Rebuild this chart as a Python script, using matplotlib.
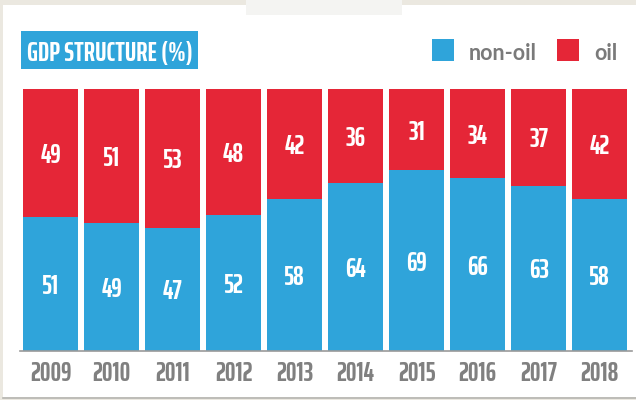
import numpy as np
import matplotlib
matplotlib.use("Agg")
import matplotlib.pyplot as plt
import matplotlib.patches as patches

years = ["2009", "2010", "2011", "2012", "2013", "2014", "2015", "2016", "2017", "2018"]
non_oil = [51, 49, 47, 52, 58, 64, 69, 66, 63, 58]
oil = [49, 51, 53, 48, 42, 36, 31, 34, 37, 42]

BLUE = "#2fa4da"
RED = "#e52637"
GREY = "#808080"
NARROW = ["Saira ExtraCondensed", "Barlow Condensed", "Roboto Condensed",
          "Liberation Sans Narrow", "DejaVu Sans"]
ROUND = ["Lato", "DejaVu Sans"]

fig = plt.figure(figsize=(6.36, 4.0), dpi=100)
fig.patch.set_facecolor("#ebe8e0")

# white card behind everything
W, H = 636.0, 400.0
card = patches.Rectangle((3 / W, 3 / H), 1.0, 392 / H, transform=fig.transFigure,
                         facecolor="white", edgecolor="none", zorder=-10)
fig.patches.append(card)
# bottom edge of the card
fig.add_artist(plt.Line2D([3 / W, 1.0], [2.5 / H, 2.5 / H], color="#b5b5b0", lw=1.2,
                          transform=fig.transFigure, zorder=-9))
# scrap of tape at the top
tape = patches.Rectangle((246 / W, 385 / H), 156 / W, 15 / H, transform=fig.transFigure,
                         facecolor="#f4f4f2", edgecolor="none", zorder=-9)
fig.patches.append(tape)

ax = fig.add_axes([20 / W, 49 / H, 612 / W, 262 / H])
ax.set_facecolor("none")
x = np.arange(len(years))
ax.bar(x, non_oil, width=0.9, color=BLUE, zorder=2)
ax.bar(x, oil, width=0.9, bottom=non_oil, color=RED, zorder=2)

for i in range(len(years)):
    ax.text(x[i], non_oil[i] / 2, str(non_oil[i]), ha="center", va="center_baseline",
            color="white", fontsize=19, fontweight="bold", family=NARROW, zorder=3)
    ax.text(x[i], non_oil[i] + oil[i] / 2, str(oil[i]), ha="center", va="center_baseline",
            color="white", fontsize=19, fontweight="bold", family=NARROW, zorder=3)

ax.set_xlim(-0.5, 9.53)
ax.set_ylim(0, 100)
ax.set_xticks(x)
ax.set_xticklabels(years, fontsize=19, fontweight="bold", color=GREY, family=NARROW)
ax.tick_params(axis="x", length=0, pad=7)
ax.set_yticks([])
for s in ["top", "left", "right"]:
    ax.spines[s].set_visible(False)
ax.spines["bottom"].set_color("#9a9a9a")
ax.spines["bottom"].set_linewidth(1.2)

# title badge
fig.patches.append(patches.Rectangle((21 / W, (400 - 69) / H), 177 / W, 38 / H,
                                     transform=fig.transFigure, facecolor=BLUE,
                                     edgecolor="none", zorder=1))
fig.text(27 / W, (400 - 51) / H, "GDP STRUCTURE (%)", color="white", fontsize=19.5,
         fontweight="bold", family=NARROW, va="center_baseline", ha="left", zorder=2)

# legend
fig.patches.append(patches.Rectangle((432 / W, (400 - 61) / H), 22 / W, 22 / H,
                                     transform=fig.transFigure, facecolor=BLUE,
                                     edgecolor="none"))
fig.text(469 / W, (400 - 51) / H, "non-oil", color="#7a7a7a", fontsize=15.5,
         fontweight="bold", family=ROUND, va="center_baseline", ha="left")
fig.patches.append(patches.Rectangle((557 / W, (400 - 61) / H), 22 / W, 22 / H,
                                     transform=fig.transFigure, facecolor=RED,
                                     edgecolor="none"))
fig.text(594 / W, (400 - 51) / H, "oil", color="#7a7a7a", fontsize=15.5,
         fontweight="bold", family=ROUND, va="center_baseline", ha="left")

fig.savefig("out.png", dpi=100)
